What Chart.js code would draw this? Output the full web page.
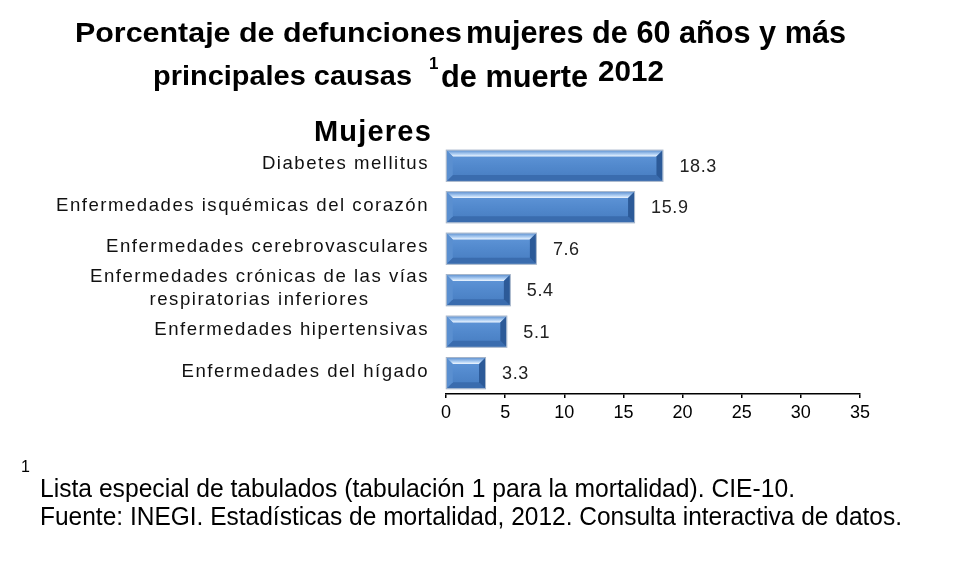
<!DOCTYPE html>
<html>
<head>
<meta charset="utf-8">
<script src="https://cdn.jsdelivr.net/npm/chart.js@4.4.0/dist/chart.umd.min.js"></script>
<style>
  html, body { margin: 0; padding: 0; background: #fff; }
  #wrap { position: relative; width: 959px; height: 585px; overflow: hidden; }
  #c { position: absolute; left: 0; top: 0; }
  .t { position: absolute; white-space: nowrap; color: #000; font-family: "Liberation Sans", Arial, sans-serif; transform-origin: 0 50%; line-height: 1; }
  .b { font-weight: bold; }
</style>
</head>
<body>
<div id="wrap">
  <canvas id="c" width="959" height="585"></canvas>
  <span class="t b fit" data-w="387" style="left:75px; top:19px; font-size:28px;">Porcentaje de defunciones</span>
  <span class="t b fit" data-w="380" style="left:466px; top:16px; font-size:32px;">mujeres de 60 años y más</span>
  <span class="t b fit" data-w="259" style="left:153px; top:62px; font-size:28px;">principales causas</span>
  <span class="t b" style="left:429px; top:55px; font-size:17px;">1</span>
  <span class="t b fit" data-w="147" style="left:441px; top:60px; font-size:32px;">de muerte</span>
  <span class="t b fit" data-w="66" style="left:598px; top:56px; font-size:30px;">2012</span>
  <span class="t" style="left:21px; top:459px; font-size:16px;">1</span>
  <span class="t fit" data-w="755" style="left:40px; top:476px; font-size:25px;">Lista especial de tabulados (tabulación 1 para la mortalidad). CIE-10.</span>
  <span class="t fit" data-w="862" style="left:40px; top:504px; font-size:25px;">Fuente: INEGI. Estadísticas de mortalidad, 2012. Consulta interactiva de datos.</span>
</div>
<script>
// ---- data ----
const categories = [
  ["Diabetes mellitus"],
  ["Enfermedades isquémicas del corazón"],
  ["Enfermedades cerebrovasculares"],
  ["Enfermedades crónicas de las vías", "respiratorias inferiores"],
  ["Enfermedades hipertensivas"],
  ["Enfermedades del hígado"]
];
const values = [18.3, 15.9, 7.6, 5.4, 5.1, 3.3];
const xTicks = [0, 5, 10, 15, 20, 25, 30, 35];
const groupTitle = "Mujeres";

// fit overlay text widths
document.querySelectorAll('.fit').forEach(el => {
  const w = el.getBoundingClientRect().width;
  const target = parseFloat(el.dataset.w);
  el.style.transform = 'scaleX(' + (target / w) + ')';
});

const FONT = '"Liberation Sans", Arial, sans-serif';

const bevelBars = {
  id: 'bevelBars',
  afterDatasetsDraw(chart) {
    const ctx = chart.ctx;
    const meta = chart.getDatasetMeta(0);
    meta.data.forEach((bar, i) => {
      const p = bar.getProps(['x', 'y', 'base', 'height'], true);
      const x0 = Math.min(p.base, p.x), x1 = Math.max(p.base, p.x);
      const y0 = p.y - p.height / 2, y1 = p.y + p.height / 2;
      const w = x1 - x0, h = y1 - y0;
      const b = Math.min(6, w / 2, h / 2);
      ctx.save();
      // face
      let g = ctx.createLinearGradient(0, y0, 0, y1);
      g.addColorStop(0, '#6298da');
      g.addColorStop(0.5, '#5289cd');
      g.addColorStop(1, '#467cc0');
      ctx.fillStyle = g;
      ctx.fillRect(x0, y0, w, h);
      // top bevel
      g = ctx.createLinearGradient(0, y0, 0, y0 + b);
      g.addColorStop(0, '#6496d4');
      g.addColorStop(0.6, '#b2d1f4');
      g.addColorStop(1, '#f0f7ff');
      ctx.fillStyle = g;
      ctx.beginPath();
      ctx.moveTo(x0, y0); ctx.lineTo(x1, y0); ctx.lineTo(x1 - b, y0 + b); ctx.lineTo(x0 + b, y0 + b); ctx.closePath();
      ctx.fill();
      // bottom bevel
      ctx.fillStyle = '#3a6cae';
      ctx.beginPath();
      ctx.moveTo(x0, y1); ctx.lineTo(x1, y1); ctx.lineTo(x1 - b, y1 - b); ctx.lineTo(x0 + b, y1 - b); ctx.closePath();
      ctx.fill();
      // left bevel
      ctx.fillStyle = '#5a8fd0';
      ctx.beginPath();
      ctx.moveTo(x0, y0); ctx.lineTo(x0 + b, y0 + b); ctx.lineTo(x0 + b, y1 - b); ctx.lineTo(x0, y1); ctx.closePath();
      ctx.fill();
      // right bevel
      ctx.fillStyle = '#2c5a98';
      ctx.beginPath();
      ctx.moveTo(x1, y0); ctx.lineTo(x1 - b, y0 + b); ctx.lineTo(x1 - b, y1 - b); ctx.lineTo(x1, y1); ctx.closePath();
      ctx.fill();
      // outline
      ctx.strokeStyle = '#a3b3c8';
      ctx.lineWidth = 1;
      ctx.strokeRect(x0 - 0.5, y0 - 0.5, w + 1, h + 1);
      // value label
      ctx.fillStyle = '#222';
      ctx.font = '18px ' + FONT;
      ctx.textAlign = 'left';
      ctx.textBaseline = 'middle';
      try { ctx.letterSpacing = '0.6px'; } catch (e) {}
      ctx.fillText(values[i].toFixed(1), x1 + 17, p.y + 1);
      ctx.restore();
    });
  }
};

const catLabels = {
  id: 'catLabels',
  afterDraw(chart) {
    const ctx = chart.ctx;
    const ys = chart.scales.y;
    const xr = chart.chartArea.left - 17;
    ctx.save();
    ctx.fillStyle = '#111';
    ctx.font = '18.6px ' + FONT;
    try { ctx.letterSpacing = '1.5px'; } catch (e) {}
    ctx.textBaseline = 'middle';
    categories.forEach((lines, i) => {
      const yc = ys.getPixelForValue(i) - 1.5;
      if (lines.length === 1) {
        ctx.textAlign = 'right';
        ctx.fillText(lines[0], xr, yc);
      } else {
        const widths = lines.map(l => ctx.measureText(l).width);
        const maxW = Math.max(...widths);
        const cx = xr - maxW / 2;
        ctx.textAlign = 'center';
        const lh = 23;
        lines.forEach((l, k) => ctx.fillText(l, cx, yc + (k - (lines.length - 1) / 2) * lh));
      }
    });
    // group title
    ctx.font = 'bold 29px ' + FONT;
    try { ctx.letterSpacing = '1.2px'; } catch (e) {}
    ctx.textAlign = 'right';
    ctx.fillStyle = '#000';
    ctx.fillText(groupTitle, xr + 3, chart.chartArea.top - 12);
    ctx.restore();
  }
};

new Chart(document.getElementById('c'), {
  type: 'bar',
  data: {
    labels: categories.map(c => c.join(' ')),
    datasets: [{
      data: values,
      backgroundColor: 'rgba(0,0,0,0)',
      borderWidth: 0,
      categoryPercentage: 1,
      barPercentage: 0.73
    }]
  },
  options: {
    indexAxis: 'y',
    responsive: false,
    animation: false,
    events: [],
    layout: { padding: { left: 446, right: 99, top: 145, bottom: 157.5 } },
    plugins: { legend: { display: false }, tooltip: { enabled: false }, title: { display: false } },
    scales: {
      y: { display: false },
      x: {
        type: 'linear',
        min: xTicks[0],
        max: xTicks[xTicks.length - 1],
        afterBuildTicks: (scale) => { scale.ticks = xTicks.map(v => ({ value: v })); },
        border: { display: true, color: '#000', width: 1.5 },
        grid: { drawOnChartArea: false, drawTicks: true, tickLength: 4, color: '#000', lineWidth: 1.5 },
        ticks: { color: '#000', font: { family: FONT, size: 18 }, padding: 4, maxRotation: 0 }
      }
    }
  },
  plugins: [bevelBars, catLabels]
});
</script>
</body>
</html>
